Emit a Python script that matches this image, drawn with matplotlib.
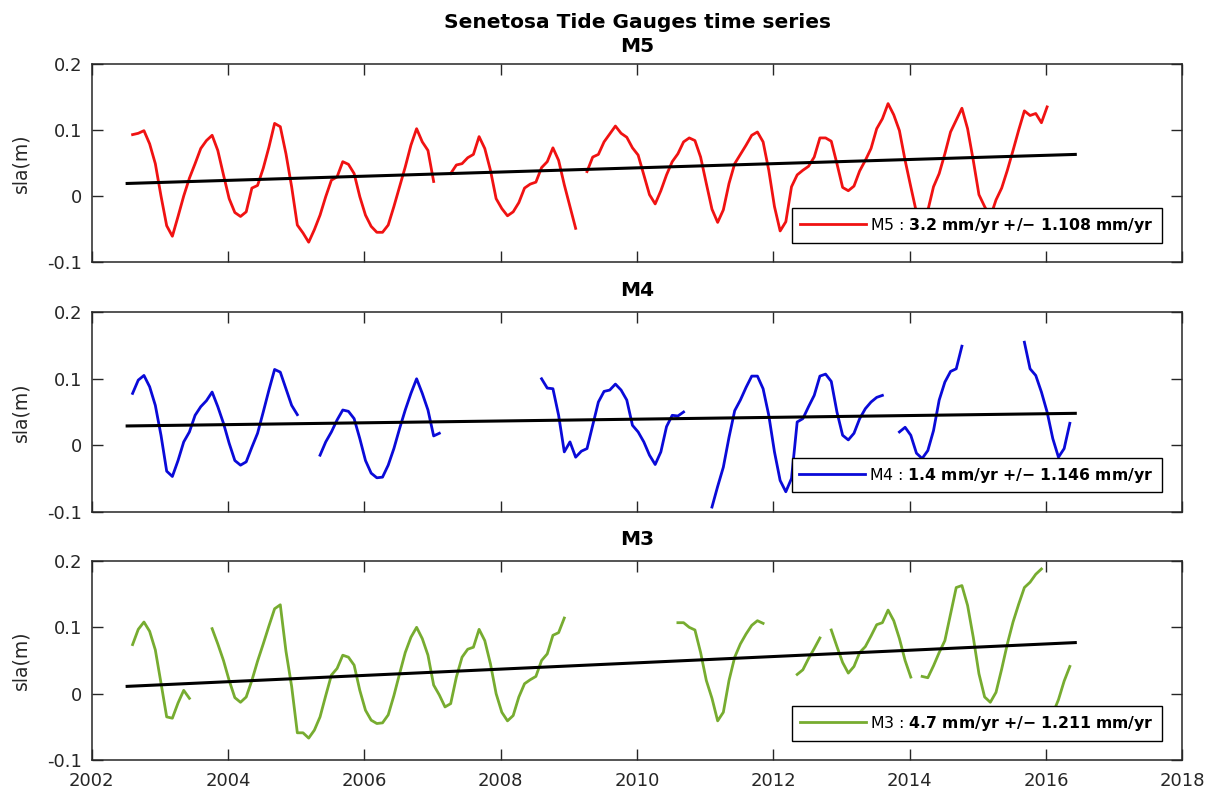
import matplotlib
matplotlib.use("Agg")
import matplotlib.pyplot as plt
import numpy as np

# monthly sea level anomaly (m), first sample ~ aug 2002, None = no data
t_start = 2002.6

m5_sla = [
    0.093, 0.095, 0.099, 0.079, 0.049, 0.000, -0.045, -0.061, -0.031, 0.000,
    0.027, 0.049, 0.072, 0.084, 0.092, 0.069, 0.032, -0.004, -0.025, -0.031,
    -0.024, 0.012, 0.016, 0.042, 0.074, 0.110, 0.105, 0.064, 0.014, -0.044,
    -0.056, -0.070, -0.051, -0.029, -0.001, 0.024, 0.029, 0.052, 0.048, 0.034,
    -0.001, -0.029, -0.046, -0.055, -0.055, -0.044, -0.016, 0.014, 0.044, 0.077,
    0.102, 0.082, 0.069, 0.022, None, None, 0.034, 0.047, 0.049, 0.058,
    0.063, 0.090, 0.072, 0.039, -0.004, -0.019, -0.030, -0.024, -0.010, 0.012,
    0.018, 0.021, 0.043, 0.052, 0.073, 0.054, 0.017, -0.016, -0.049, None,
    0.037, 0.059, 0.063, 0.082, 0.094, 0.106, 0.095, 0.089, 0.073, 0.062,
    0.032, 0.002, -0.012, 0.008, 0.032, 0.052, 0.064, 0.082, 0.088, 0.084,
    0.059, 0.019, -0.020, -0.040, -0.021, 0.019, 0.049, 0.063, 0.077, 0.092,
    0.097, 0.082, 0.039, -0.016, -0.053, -0.039, 0.014, 0.032, 0.039, 0.045,
    0.059, 0.088, 0.088, 0.083, 0.049, 0.013, 0.008, 0.015, 0.038, 0.054,
    0.072, 0.102, 0.117, 0.140, 0.123, 0.099, 0.054, 0.014, -0.025, -0.050,
    -0.022, 0.014, 0.034, 0.064, 0.097, 0.115, 0.133, 0.102, 0.054, 0.002,
    -0.016, -0.032, -0.006, 0.012, 0.039, 0.069, 0.100, 0.129, 0.122, 0.125,
    0.111, 0.135,
]

m4_sla = [
    0.078, 0.098, 0.105, 0.088, 0.060, 0.015, -0.039, -0.047, -0.023, 0.005,
    0.020, 0.045, 0.058, 0.067, 0.080, 0.058, 0.033, 0.003, -0.023, -0.030,
    -0.025, -0.003, 0.018, 0.050, 0.083, 0.114, 0.110, 0.085, 0.060, 0.046,
    None, None, None, -0.015, 0.005, 0.020, 0.038, 0.053, 0.051, 0.040,
    0.010, -0.023, -0.042, -0.049, -0.048, -0.030, -0.005, 0.025, 0.053, 0.078,
    0.100, 0.078, 0.053, 0.014, 0.018, None, None, None, None, None,
    None, None, None, None, None, None, None, None, None, None,
    None, None, 0.100, 0.086, 0.085, 0.045, -0.010, 0.005, -0.018, -0.009,
    -0.005, 0.030, 0.065, 0.081, 0.083, 0.092, 0.083, 0.068, 0.030, 0.020,
    0.005, -0.015, -0.029, -0.010, 0.028, 0.045, 0.044, 0.050, None, None,
    None, None, -0.093, -0.062, -0.033, 0.012, 0.052, 0.068, 0.087, 0.104,
    0.104, 0.085, 0.045, -0.010, -0.053, -0.070, -0.050, 0.035, 0.040, 0.058,
    0.075, 0.104, 0.107, 0.096, 0.050, 0.015, 0.008, 0.018, 0.040, 0.055,
    0.065, 0.072, 0.075, None, None, 0.020, 0.027, 0.015, -0.012, -0.020,
    -0.008, 0.022, 0.068, 0.095, 0.111, 0.115, 0.149, None, None, None,
    None, None, None, None, None, None, None, 0.155, 0.115, 0.105,
    0.080, 0.050, 0.010, -0.018, -0.005, 0.033,
]

m3_sla = [
    0.074, 0.097, 0.108, 0.094, 0.066, 0.016, -0.035, -0.037, -0.014, 0.005,
    -0.007, None, None, None, 0.098, 0.075, 0.050, 0.020, -0.006, -0.013,
    -0.005, 0.020, 0.049, 0.075, 0.102, 0.128, 0.134, 0.064, 0.011, -0.059,
    -0.059, -0.067, -0.055, -0.035, -0.003, 0.028, 0.038, 0.058, 0.055, 0.043,
    0.005, -0.025, -0.040, -0.045, -0.044, -0.032, -0.003, 0.030, 0.062, 0.085,
    0.100, 0.083, 0.058, 0.013, -0.002, -0.020, -0.015, 0.025, 0.055, 0.067,
    0.070, 0.097, 0.080, 0.045, 0.000, -0.028, -0.041, -0.033, -0.005, 0.015,
    0.021, 0.026, 0.050, 0.060, 0.088, 0.092, 0.114, None, None, None,
    None, None, None, None, None, None, None, None, None, None,
    None, None, None, None, None, None, 0.107, 0.107, 0.100, 0.096,
    0.062, 0.020, -0.007, -0.041, -0.028, 0.020, 0.055, 0.075, 0.090, 0.103,
    0.110, 0.106, None, None, None, None, None, 0.029, 0.036, 0.053,
    0.068, 0.084, None, 0.096, 0.071, 0.047, 0.031, 0.041, 0.062, 0.071,
    0.087, 0.104, 0.107, 0.126, 0.110, 0.083, 0.050, 0.025, None, 0.026,
    0.024, 0.042, 0.062, 0.080, 0.120, 0.160, 0.163, 0.133, 0.085, 0.030,
    -0.005, -0.013, 0.002, 0.037, 0.075, 0.108, 0.135, 0.160, 0.168, 0.180,
    0.188, None, -0.030, -0.009, 0.019, 0.041,
]

# linear trend end points (year, sla)
trend_years = [2002.52, 2016.43]
m5_trend = [0.019, 0.063]
m4_trend = [0.029, 0.048]
m3_trend = [0.011, 0.077]

names = ["M5", "M4", "M3"]
rates = ["3.2", "1.4", "4.7"]
errors = ["1.108", "1.146", "1.211"]
colors = ["#f01212", "#0a0ad8", "#77ac30"]

year_ticks = [2002, 2004, 2006, 2008, 2010, 2012, 2014, 2016, 2018]
sla_ticks = [-0.1, 0, 0.1, 0.2]
sla_labels = ["-0.1", "0", "0.1", "0.2"]

plt.rcParams["font.family"] = ["DejaVu Sans"]
plt.rcParams["mathtext.fontset"] = "dejavusans"

W, H = 1209, 791
fig = plt.figure(figsize=(W / 100, H / 100), dpi=100)

# axes boxes in pixels: left, right, top, bottom
left_px, right_px = 91.7, 1182.3
tops = [64.0, 312.3, 561.0]
bottoms = [262.0, 511.7, 760.0]

series = [m5_sla, m4_sla, m3_sla]
trends = [m5_trend, m4_trend, m3_trend]
edge = "#262626"

for i in range(3):
    ax = fig.add_axes([left_px / W, 1 - bottoms[i] / H,
                       (right_px - left_px) / W, (bottoms[i] - tops[i]) / H])
    y = np.array([np.nan if v is None else v for v in series[i]], dtype=float)
    t = t_start + np.arange(len(y)) / 12.0

    # matlab-like legend: station name plain, rate in bold
    label = names[i] + r" : $\mathbf{" + rates[i] + r"\ mm/yr\ {+}/{-}\ " + errors[i] + r"\ mm/yr}$"
    ax.plot(t, y, color=colors[i], lw=2.0, label=label)
    ax.plot(trend_years, trends[i], color="black", lw=2.2)

    ax.set_xlim(2002, 2018)
    ax.set_ylim(-0.1, 0.2)
    ax.set_xticks(year_ticks)
    ax.set_yticks(sla_ticks)
    ax.set_yticklabels(sla_labels)
    if i < 2:
        ax.set_xticklabels([])
    ax.tick_params(direction="in", length=8, width=1, colors=edge, labelcolor=edge,
                   labelsize=13, top=True, right=True)
    ax.tick_params(axis="x", pad=9)
    ax.tick_params(axis="y", pad=7)
    for s in ax.spines.values():
        s.set_color(edge)
        s.set_linewidth(1.1)
    ax.set_ylabel("sla(m)", fontsize=13.5, color=edge, labelpad=12)

    if i == 0:
        ax.set_title("Senetosa Tide Gauges time series\n" + names[i], fontsize=14.5,
                     fontweight="bold", pad=9, linespacing=1.3)
    else:
        ax.set_title(names[i], fontsize=14.5, fontweight="bold", pad=11.5)

    leg = ax.legend(loc="lower right", bbox_to_anchor=(0.981, 0.097), borderaxespad=0,
                    fontsize=11.3, handlelength=4.2, handletextpad=0.25, borderpad=0.5,
                    fancybox=False, framealpha=1, edgecolor="black")
    leg.get_frame().set_linewidth(1.0)

fig.savefig("out.png", dpi=100)
